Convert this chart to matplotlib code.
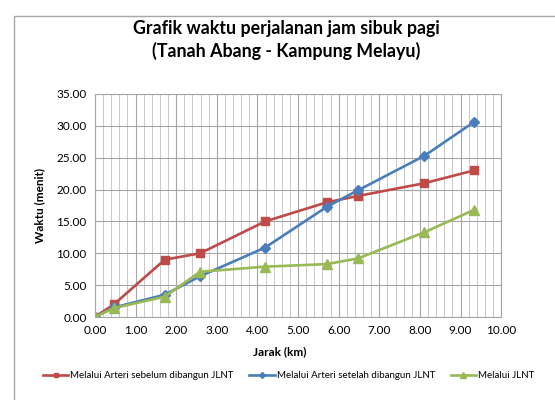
import matplotlib
matplotlib.use("Agg")
import matplotlib.pyplot as plt
from matplotlib.patches import Rectangle
from matplotlib.ticker import MultipleLocator, FormatStrFormatter

plt.rcParams["font.family"] = ["Lato", "DejaVu Sans"]

# data
jarak = [0.00, 0.47, 1.72, 2.59, 4.19, 5.71, 6.48, 8.11, 9.33]
sebelum = [0.0, 2.0, 9.0, 10.0, 15.0, 18.0, 19.0, 21.0, 23.0]
setelah = [0.0, 1.5, 3.5, 6.4, 10.9, 17.3, 19.9, 25.3, 30.6]
jlnt = [0.0, 1.4, 3.2, 7.1, 7.9, 8.3, 9.2, 13.3, 16.8]
labels = ["Melalui Arteri sebelum dibangun JLNT",
          "Melalui Arteri setelah dibangun JLNT",
          "Melalui JLNT"]

fig = plt.figure(figsize=(5.55, 4), dpi=100)
ax = fig.add_axes([0.171, 0.2075, 0.732, 0.5575])

# chart border like excel
fig.patches.append(Rectangle((14/555, -0.1), 1.0, 1.08 - 8/400, transform=fig.transFigure,
                             fill=False, edgecolor="#A6A6A6", lw=1.0))

ax.plot(jarak, sebelum, color="#BE4B48", lw=1.9, marker="s", ms=5.5, label=labels[0])
ax.plot(jarak, setelah, color="#4A7EBB", lw=1.9, marker="D", ms=5, label=labels[1])
ax.plot(jarak, jlnt, color="#98B954", lw=1.9, marker="^", ms=7, label=labels[2])

ax.set_xlim(0, 10); ax.set_ylim(0, 35)
ax.xaxis.set_major_locator(MultipleLocator(1))
ax.xaxis.set_minor_locator(MultipleLocator(0.2))
ax.yaxis.set_major_locator(MultipleLocator(5))
ax.xaxis.set_major_formatter(FormatStrFormatter("%.2f"))
ax.yaxis.set_major_formatter(FormatStrFormatter("%.2f"))
ax.grid(which="major", color="#A6A6A6", lw=0.8)
ax.grid(which="minor", axis="x", color="#C8C8C8", lw=0.7)
ax.set_axisbelow(True)
for s in ax.spines.values():
    s.set_color("#A6A6A6"); s.set_linewidth(0.8)
ax.tick_params(which="both", length=0, labelsize=8.5, pad=6)

ax.set_ylabel("Waktu (menit)", fontsize=8.5, fontweight="bold", labelpad=8)
fig.text(280/555, 1 - 352/400, "Jarak (km)", ha="center", va="center",
         fontsize=8.5, fontweight="bold")
fig.text(286/555, 1 - 40/400, "Grafik waktu perjalanan jam sibuk pagi\n(Tanah Abang - Kampung Melayu)",
         ha="center", va="center", fontsize=12.8, fontweight="bold", linespacing=1.3)

fig.legend(loc="center", bbox_to_anchor=(0.52, 1 - 376/400), ncol=3, frameon=False,
           fontsize=7, handlelength=2.6, handletextpad=0.2, columnspacing=1.6, markerscale=0.6)

fig.savefig("out.png", dpi=100)
